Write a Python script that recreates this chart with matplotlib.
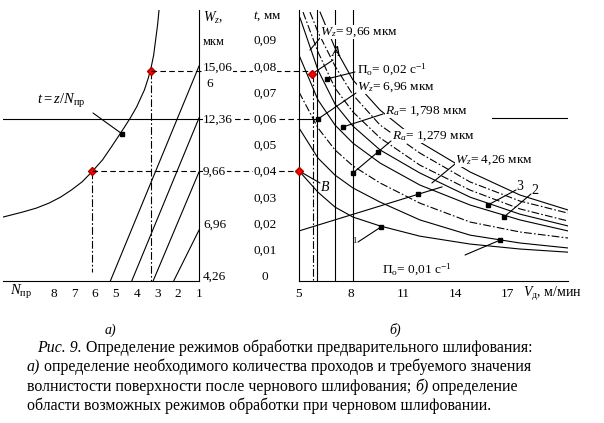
import matplotlib
matplotlib.use("Agg")
import matplotlib.pyplot as plt

W_PX, H_PX = 604, 423
SERIF = "Liberation Serif"
plt.rcParams["font.family"] = SERIF
plt.rcParams["mathtext.fontset"] = "custom"
plt.rcParams["mathtext.rm"] = SERIF
plt.rcParams["mathtext.it"] = SERIF + ":italic"
plt.rcParams["mathtext.bf"] = SERIF + ":bold"

# ---- panel a): t = z/N_пр ----
N_TICKS = [8, 7, 6, 5, 4, 3, 2, 1]
T_TICKS = [0, 0.01, 0.02, 0.03, 0.04, 0.05, 0.06, 0.07, 0.08, 0.09]
T_LABELS = ["0", "0,01", "0,02", "0,03", "0,04", "0,05", "0,06", "0,07", "0,08", "0,09"]
WZ_POS = [0, 0.02, 0.04, 0.06, 0.08]
WZ_LABELS = ["4,26", "6,96", "9,66", "12,36", "15,06"]

CURVE_N = [2.925, 2.995, 3.089, 3.183, 3.30, 3.441, 3.629, 4.005, 4.31, 4.615, 5.225,
           5.648, 6.164, 6.634, 7.150, 7.667, 8.230, 8.840, 9.498, 10.437]
CURVE_T = [0.1019, 0.0962, 0.0905, 0.0847, 0.0802, 0.0760, 0.0714, 0.0649, 0.0607,
           0.0569, 0.0496, 0.0447, 0.0401, 0.0363, 0.0332, 0.0305, 0.0282, 0.0263,
           0.0248, 0.0229]

# straight lines: start N on the bottom line, t where they meet the W_z axis
LINE_N0 = [5.27, 4.24, 3.21, 2.22]
LINE_T1 = [0.0805, 0.0607, 0.0401, 0.0179]

RED_A_N, RED_A_T = 3.30, 0.0785   # -> W_z = 15,06
RED_B_N, RED_B_T = 6.16, 0.0403   # -> W_z = 9,66
MARK_N, MARK_T = 4.70, 0.0546
LEVEL_T = 0.0605

# ---- panel б): t(V_д) ----
V_TICKS = [5, 8, 11, 14, 17]
V_GRID = [5.0, 6.09, 7.07, 8.1, 9.66, 11.95, 14.83, 17.7, 20.46]
CURVES = [
    # (V values, t values, solid?)
    ([6.21, 7.07, 8.1, 9.66, 11.95, 14.83, 17.7, 20.46],
     [0.1011, 0.0874, 0.0752, 0.0637, 0.0515, 0.0401, 0.0313, 0.0256], True),
    ([5.63, 6.09, 7.07, 8.1, 9.66, 11.95, 14.83, 17.7, 20.46],
     [0.1011, 0.0935, 0.0805, 0.0695, 0.0580, 0.0473, 0.0363, 0.0290, 0.0244], False),
    ([5.23, 6.09, 7.07, 8.1, 9.66, 11.95, 14.83, 17.7, 20.46],
     [0.1011, 0.0859, 0.0721, 0.0630, 0.0531, 0.0427, 0.0332, 0.0260, 0.0214], False),
    ([5.06, 6.09, 7.07, 8.1, 9.66, 11.95, 14.83, 17.7, 20.46],
     [0.0989, 0.0790, 0.0660, 0.0576, 0.0485, 0.0397, 0.0305, 0.0240, 0.0195], True),
    (V_GRID, [0.0847, 0.0676, 0.0580, 0.0511, 0.0435, 0.0351, 0.0275, 0.0218, 0.0176], True),
    (V_GRID, [0.0706, 0.0569, 0.0485, 0.0424, 0.0359, 0.0282, 0.0210, 0.0172, 0.0149], False),
    (V_GRID, [0.0569, 0.0454, 0.0389, 0.0340, 0.0286, 0.0218, 0.0160, 0.0130, 0.0111], True),
    (V_GRID, [0.0405, 0.0324, 0.0267, 0.0229, 0.0195, 0.0156, 0.0126, 0.0107, 0.0095], True),
]
VERT_V = [6.05, 7.07, 8.1]
VERT_DASH_V = 5.8
RISE_V = [5.0, 13.22]
RISE_T = [0.0176, 0.0344]
RIGHT_SEG_V = [16.09, 20.46]
RIGHT_SEG_T = 0.0607
POINT_A = (5.75, 0.0775)
POINT_B = (5.0, 0.0405)

# black markers, and leaders (start in figure px, end in data)
MARKERS = [
    (6.61, 0.0756), (6.09, 0.0603), (7.53, 0.0573), (9.54, 0.0477), (8.10, 0.0397),
    (11.84, 0.0317), (15.86, 0.0275), (16.78, 0.0229), (16.55, 0.0141), (9.71, 0.0191),
]
LEADERS = [
    ((320, 38), (5.63, 0.0866)),
    ((333, 60), POINT_A),
    ((355, 72), (6.61, 0.0756)),
    ((356, 93), (6.09, 0.0603)),
    ((383, 114), (7.53, 0.0573)),
    ((391, 141), (8.10, 0.0397)),
    ((455, 164), (12.64, 0.0359)),
    ((516, 190), (15.86, 0.0275)),
    ((531, 194), (16.78, 0.0229)),
    ((465, 255), (16.55, 0.0141)),
    ((320, 183), POINT_B),
    ((358, 242), (9.71, 0.0191)),
]
LABELS = [
    (320, 32, r"$W_z$= 9,66 мкм"),
    (357, 70, r"$\mathrm{П}_\mathrm{o}$= 0,02 с$^{-1}$"),
    (357, 87, r"$W_z$= 6,96 мкм"),
    (385, 111, r"$R_a$= 1,798 мкм"),
    (392, 136, r"$R_a$= 1,279 мкм"),
    (455, 160, r"$W_z$= 4,26 мкм"),
    (382, 270, r"$\mathrm{П}_\mathrm{o}$= 0,01 с$^{-1}$"),
]
LW = 0.8
DASH = (0, (5, 3))
DASHDOT = (0, (7, 2, 1.5, 2))


def fx(px):
    return px / W_PX


def fy(py):
    return 1 - py / H_PX


fig = plt.figure(figsize=(W_PX / 100, H_PX / 100), dpi=100)
bottom, height = fy(281), (281 - 10) / H_PX
ax_l = fig.add_axes([fx(3), bottom, (199 - 3) / W_PX, height])
ax_r = fig.add_axes([fx(299), bottom, (568 - 299) / W_PX, height])
ylim = (-0.0015, 0.1019)
ax_l.set_xlim(10.44, 1.235)
ax_r.set_xlim(5, 20.46)
for ax in (ax_l, ax_r):
    ax.set_ylim(*ylim)
    ax.set_facecolor("none")
    ax.tick_params(length=0, labelsize=9.5, pad=5)
    ax.set_yticks([])
    for s in ax.spines.values():
        s.set_linewidth(LW)
ax_l.spines["top"].set_visible(False)
ax_l.spines["left"].set_visible(False)
ax_r.spines["top"].set_visible(False)
ax_r.spines["right"].set_visible(False)
ax_l.set_xticks(N_TICKS)
ax_l.set_xticklabels([str(n) for n in N_TICKS])
ax_r.set_xticks(V_TICKS)
ax_r.set_xticklabels([str(v) for v in V_TICKS])

# panel a)
ax_l.plot(CURVE_N, CURVE_T, color="black", lw=LW)
n_end = ax_l.get_xlim()[1]
for n0, t1 in zip(LINE_N0, LINE_T1):
    ax_l.plot([n0, n_end], [ylim[0], t1], color="black", lw=LW)
ax_l.plot(ax_l.get_xlim(), [LEVEL_T, LEVEL_T], color="black", lw=LW)
ax_l.plot([RED_A_N, RED_A_N], [RED_A_T, ylim[0]], color="black", lw=LW, ls=DASHDOT)
ax_l.plot([RED_B_N, RED_B_N], [RED_B_T, 0.0019], color="black", lw=LW, ls=DASHDOT)
ax_l.plot([RED_A_N, RED_B_N], [RED_A_T, RED_B_T], ls="none", marker="D", ms=4,
          color="red", mec="#b00000", zorder=5)
ax_l.plot([MARK_N], [MARK_T], ls="none", marker="s", ms=3, color="black")
ax_l.annotate("", xy=(MARK_N, MARK_T), xytext=(93, H_PX - 113), textcoords="figure pixels",
              arrowprops=dict(arrowstyle="-", lw=LW, shrinkA=0, shrinkB=0))


def to_right(n, t):
    disp = ax_l.transData.transform((n, t))
    return ax_r.transData.inverted().transform(disp)


# connectors running from panel a) into panel б)
va_left = to_right(RED_A_N, RED_A_T)[0]
vb_left = to_right(RED_B_N, RED_B_T)[0]
v_spine = to_right(n_end, 0)[0]
ax_r.plot([va_left, POINT_A[0]], [RED_A_T, RED_A_T], color="black", lw=LW, ls=DASH,
          clip_on=False)
ax_r.plot([vb_left, POINT_B[0]], [RED_B_T, RED_B_T], color="black", lw=LW, ls=DASH,
          clip_on=False)
ax_r.plot([v_spine, 5], [LEVEL_T, LEVEL_T], color="black", lw=LW, ls=DASH, clip_on=False)
ax_r.plot([5, 6.09], [LEVEL_T, LEVEL_T], color="black", lw=LW)

# panel б)
for vs, ts, solid in CURVES:
    ax_r.plot(vs, ts, color="black", lw=LW, ls="-" if solid else DASHDOT)
for v in VERT_V:
    ax_r.plot([v, v], ylim, color="black", lw=LW)
ax_r.plot([VERT_DASH_V, VERT_DASH_V], [POINT_A[1], ylim[0]], color="black", lw=LW, ls=DASHDOT)
ax_r.plot(RISE_V, RISE_T, color="black", lw=LW)
ax_r.plot(RIGHT_SEG_V, [RIGHT_SEG_T, RIGHT_SEG_T], color="black", lw=LW)
ax_r.plot([p[0] for p in MARKERS], [p[1] for p in MARKERS], ls="none", marker="s", ms=3,
          color="black", zorder=4)
ax_r.plot([POINT_A[0], POINT_B[0]], [POINT_A[1], POINT_B[1]], ls="none", marker="D", ms=4,
          color="red", mec="#b00000", zorder=5, clip_on=False)
for (px, py), (v, t) in LEADERS:
    ax_r.annotate("", xy=(v, t), xytext=(px, H_PX - py), textcoords="figure pixels",
                  arrowprops=dict(arrowstyle="-", lw=LW, shrinkA=0, shrinkB=0))

box = dict(facecolor="white", edgecolor="none", pad=0.3)
for px, py, s in LABELS:
    fig.text(fx(px), fy(py), s, fontsize=9.6, va="center", ha="left", bbox=box, zorder=6)
fig.text(fx(336), fy(53), "A", fontsize=10, style="italic", va="center", ha="center")
fig.text(fx(325), fy(187), "B", fontsize=10, style="italic", va="center", ha="center")
fig.text(fx(520), fy(186), "3", fontsize=10, va="center", ha="center")
fig.text(fx(535), fy(190), "2", fontsize=10, va="center", ha="center")
fig.text(fx(354), fy(241), "1", fontsize=6, va="center", ha="center")

# middle scales
ytr = ax_r.get_yaxis_transform()
for t, lab in zip(T_TICKS, T_LABELS):
    ax_r.text((265 - 299) / 269, t, lab, transform=ytr, fontsize=9.5, ha="center",
              va="center", bbox=box, zorder=6)
for t, lab in zip(WZ_POS, WZ_LABELS):
    ax_r.text((203 - 299) / 269, t, lab, transform=ytr, fontsize=9.5, ha="left",
              va="center", bbox=box, zorder=6)
fig.text(fx(203), fy(18), r"$W_z$,", fontsize=10, va="center")
fig.text(fx(203), fy(42), "мкм", fontsize=9, va="center")
fig.text(fx(253), fy(16), r"$t$, мм", fontsize=9.5, va="center")
fig.text(fx(206), fy(84), "6", fontsize=9.5, va="center")
fig.text(fx(37), fy(101), r"$t = z/N_\mathrm{пр}$", fontsize=10.5, va="center")
fig.text(fx(10), fy(292), r"$N_\mathrm{пр}$", fontsize=10.5, va="center")
fig.text(fx(523), fy(294), r"$V_\mathrm{д}$, м/мин", fontsize=10, va="center")
fig.text(fx(110), fy(330), "а)", fontsize=10, style="italic", ha="center", va="center")
fig.text(fx(395), fy(330), "б)", fontsize=10, style="italic", ha="center", va="center")

# caption, mixed italic / upright runs
renderer = fig.canvas.get_renderer()
CAPTION = [
    (37, 352, [("Рис. 9.", "italic"), (" Определение режимов обработки предварительного шлифования:", "normal")]),
    (27, 371, [("а)", "italic"), (" определение необходимого количества проходов и требуемого значения", "normal")]),
    (27, 391, [("волнистости поверхности после чернового шлифования; ", "normal"), ("б)", "italic"),
               (" определение", "normal")]),
    (27, 410, [("области возможных режимов обработки при черновом шлифовании.", "normal")]),
]
for x0, y0, parts in CAPTION:
    x = x0
    for s, style in parts:
        txt = fig.text(fx(x), fy(y0), s, fontsize=11.4, style=style, va="baseline")
        x += txt.get_window_extent(renderer).width

fig.savefig("out.png", dpi=100)
